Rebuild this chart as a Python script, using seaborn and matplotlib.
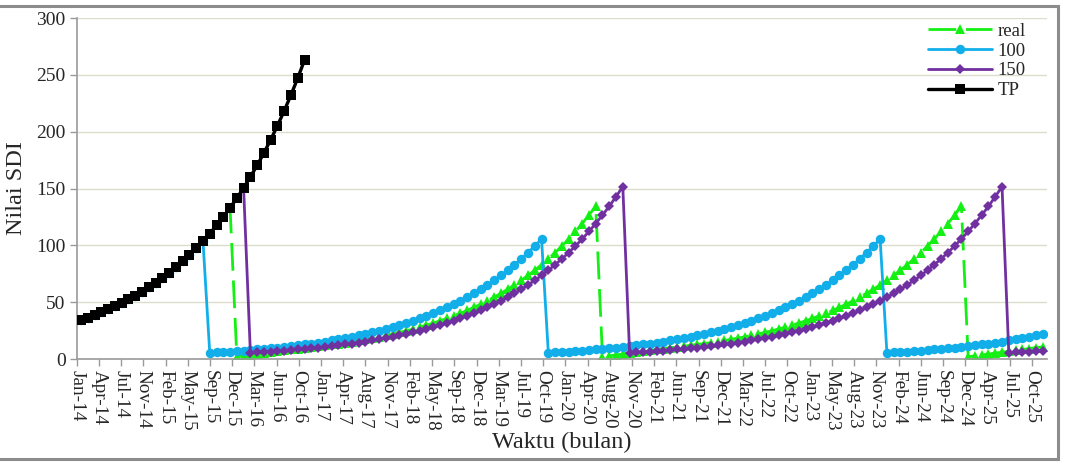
import numpy as np
import pandas as pd
import matplotlib
matplotlib.use("Agg")
import matplotlib.pyplot as plt
from matplotlib.patches import Rectangle
import seaborn as sns

# ---------------- data (monthly, Jan-14 .. Nov-25) ----------------
tp = [34.0, 36.2, 38.5, 41.0, 43.6, 46.4, 49.3, 52.5, 55.8, 59.4,
      63.2, 67.2, 71.5, 76.1, 81.0, 86.2, 91.7, 97.5, 103.8, 110.4,
      117.5, 125.0, 133.0, 141.5, 150.5, 160.2, 170.4, 181.3, 192.9, 205.3,
      218.4, 232.4, 247.2, 263.0]

s100 = [34.0, 36.2, 38.5, 41.0, 43.6, 46.4, 49.3, 52.5, 55.8, 59.4,
        63.2, 67.2, 71.5, 76.1, 81.0, 86.2, 91.7, 97.5, 103.8,
        5.5, 5.8, 6.2, 6.6, 7.0, 7.4, 7.9, 8.4, 8.9, 9.5,
        10.1, 10.7, 11.3, 12.0, 12.8, 13.6, 14.4, 15.3, 16.3, 17.3,
        18.4, 19.5, 20.7, 22.0, 23.4, 24.8, 26.4, 28.0, 29.8, 31.6,
        33.6, 35.7, 37.9, 40.2, 42.7, 45.4, 48.2, 51.2, 54.4, 57.8,
        61.4, 65.2, 69.2, 73.5, 78.1, 83.0, 88.1, 93.6, 99.4, 105.6,
        5.5, 5.8, 6.2, 6.6, 7.0, 7.4, 7.9, 8.4, 8.9, 9.5,
        10.1, 10.7, 11.3, 12.0, 12.8, 13.6, 14.4, 15.3, 16.3, 17.3,
        18.4, 19.5, 20.7, 22.0, 23.4, 24.8, 26.4, 28.0, 29.8, 31.6,
        33.6, 35.7, 37.9, 40.2, 42.7, 45.4, 48.2, 51.2, 54.4, 57.8,
        61.4, 65.2, 69.2, 73.5, 78.1, 83.0, 88.1, 93.6, 99.4, 105.6,
        5.5, 5.8, 6.2, 6.6, 7.0, 7.4, 7.9, 8.4, 8.9, 9.5,
        10.1, 10.7, 11.3, 12.0, 12.8, 13.6, 14.4, 15.3, 16.3, 17.3,
        18.4, 19.5, 20.7, 22.0]

s150 = [34.0, 36.2, 38.5, 41.0, 43.6, 46.4, 49.3, 52.5, 55.8, 59.4,
        63.2, 67.2, 71.5, 76.1, 81.0, 86.2, 91.7, 97.5, 103.8, 110.4,
        117.5, 125.0, 133.0, 141.5, 150.5,
        5.5, 5.8, 6.2, 6.6, 7.0, 7.4, 7.9, 8.4, 8.9, 9.5,
        10.1, 10.7, 11.3, 12.0, 12.8, 13.6, 14.4, 15.3, 16.3, 17.3,
        18.4, 19.5, 20.7, 22.0, 23.4, 24.8, 26.4, 28.0, 29.8, 31.6,
        33.6, 35.7, 37.9, 40.2, 42.7, 45.4, 48.2, 51.2, 54.4, 57.8,
        61.4, 65.2, 69.2, 73.5, 78.1, 83.0, 88.1, 93.6, 99.4, 105.6,
        112.2, 119.2, 126.6, 134.4, 142.8, 151.7,
        5.5, 5.8, 6.2, 6.6, 7.0, 7.4, 7.9, 8.4, 8.9, 9.5,
        10.1, 10.7, 11.3, 12.0, 12.8, 13.6, 14.4, 15.3, 16.3, 17.3,
        18.4, 19.5, 20.7, 22.0, 23.4, 24.8, 26.4, 28.0, 29.8, 31.6,
        33.6, 35.7, 37.9, 40.2, 42.7, 45.4, 48.2, 51.2, 54.4, 57.8,
        61.4, 65.2, 69.2, 73.5, 78.1, 83.0, 88.1, 93.6, 99.4, 105.6,
        112.2, 119.2, 126.6, 134.4, 142.8, 151.7,
        5.5, 5.8, 6.2, 6.6, 7.0, 7.4]

real = [34.0, 36.2, 38.5, 41.0, 43.6, 46.4, 49.3, 52.5, 55.8, 59.4,
        63.2, 67.2, 71.5, 76.1, 81.0, 86.2, 91.7, 97.5, 103.8, 110.4,
        117.5, 125.0, 133.0,
        2.0, 2.8, 3.6, 4.4, 5.2, 6.0, 6.8, 7.6, 8.4, 9.2,
        10.0, 10.7, 11.3, 12.0, 12.8, 13.6, 14.4, 15.3, 16.3, 17.3,
        18.4, 19.5, 20.7, 22.0, 23.4, 24.8, 26.4, 28.0, 29.8, 31.6,
        33.6, 35.7, 37.9, 40.2, 42.7, 45.4, 48.2, 51.2, 54.4, 57.8,
        61.4, 65.2, 69.2, 73.5, 78.1, 83.0, 88.1, 93.6, 99.4, 105.6,
        112.2, 119.2, 126.6, 134.4,
        2.0, 2.8, 3.6, 4.4, 5.2, 6.0, 6.8, 7.6, 8.4, 9.2,
        10.0, 10.7, 11.3, 12.0, 12.8, 13.6, 14.4, 15.3, 16.3, 17.3,
        18.4, 19.5, 20.7, 22.0, 23.4, 24.8, 26.4, 28.0, 29.8, 31.6,
        33.6, 35.7, 37.9, 40.2, 42.7, 45.4, 48.2, 51.2, 54.4, 57.8,
        61.4, 65.2, 69.2, 73.5, 78.1, 83.0, 88.1, 93.6, 99.4, 105.6,
        112.2, 119.2, 126.6, 134.4,
        2.0, 2.8, 3.6, 4.4, 5.2, 6.0, 6.8, 7.6, 8.4, 9.2,
        10.0, 10.7]

tick_labels = ["Jan-14", "Apr-14", "Jul-14", "Nov-14", "Feb-15", "May-15", "Sep-15",
               "Dec-15", "Mar-16", "Jun-16", "Oct-16", "Jan-17", "Apr-17", "Aug-17",
               "Nov-17", "Feb-18", "May-18", "Sep-18", "Dec-18", "Mar-19", "Jul-19",
               "Oct-19", "Jan-20", "Apr-20", "Aug-20", "Nov-20", "Feb-21", "Jun-21",
               "Sep-21", "Dec-21", "Mar-22", "Jul-22", "Oct-22", "Jan-23", "May-23",
               "Aug-23", "Nov-23", "Feb-24", "Jun-24", "Sep-24", "Dec-24", "Apr-25",
               "Jul-25", "Oct-25"]

# ---------------- style ----------------
sns.set_theme(style="white")
plt.rcParams["font.family"] = ["Liberation Serif", "DejaVu Serif"]

fig = plt.figure(figsize=(10.66, 4.62), dpi=100)
ax = fig.add_axes([0.072, 0.2229, 0.9099, 0.7381])

df_real = pd.DataFrame({"t": np.arange(len(real)), "v": real})
df_100 = pd.DataFrame({"t": np.arange(len(s100)), "v": s100})
df_150 = pd.DataFrame({"t": np.arange(len(s150)), "v": s150})
df_tp = pd.DataFrame({"t": np.arange(len(tp)), "v": tp})

sns.lineplot(data=df_real, x="t", y="v", ax=ax, color="#14F014", lw=2.0,
             linestyle=(0, (10, 3.5)), marker="^", markersize=7.0,
             markeredgewidth=0, label="real", zorder=2)
sns.lineplot(data=df_100, x="t", y="v", ax=ax, color="#12AEEA", lw=2.0,
             marker="o", markersize=6.8, markeredgewidth=0, label="100", zorder=3)
sns.lineplot(data=df_150, x="t", y="v", ax=ax, color="#7030A0", lw=2.0,
             marker="D", markersize=5.0, markeredgewidth=0, label="150", zorder=4)
sns.lineplot(data=df_tp, x="t", y="v", ax=ax, color="black", lw=2.4,
             marker="s", markersize=7.6, markeredgewidth=0, label="TP", zorder=5)

# axes
x0, step = -0.64, 3.28
ax.set_xlim(-0.64, 142.6)
ax.set_ylim(0, 300)
ax.set_yticks(np.arange(0, 301, 50))
ax.set_xticks([x0 + k * step for k in range(len(tick_labels))])
ax.set_xticklabels(tick_labels, rotation=270, fontsize=13.8)
ax.tick_params(axis="y", labelsize=14, length=5, width=1, color="#9a9a9a",
               direction="out", left=True, pad=3)
ax.tick_params(axis="x", length=5, width=1, color="#9a9a9a", direction="out",
               bottom=True, pad=3)
ax.grid(axis="y", color="#DCDCCC", lw=1.0)
ax.grid(axis="x", visible=False)
for s in ["top", "right"]:
    ax.spines[s].set_visible(False)
for s in ["left", "bottom"]:
    ax.spines[s].set_color("#9a9a9a")
    ax.spines[s].set_linewidth(1.2)

ax.set_ylabel("Nilai SDI", fontsize=17.5, labelpad=7)
ax.set_xlabel("Waktu (bulan)", fontsize=17.5, labelpad=1)

leg = ax.legend(loc="upper right", bbox_to_anchor=(0.99, 1.02), frameon=False,
                fontsize=13.5, handlelength=3.4, handletextpad=0.3,
                labelspacing=0.15, borderaxespad=0.2)

# outer border
fig.patches.append(Rectangle((-0.01, 0.006), 1.0025, 0.981, transform=fig.transFigure,
                             fill=False, edgecolor="#8c8c8c", lw=2.2))

fig.savefig("out.png", dpi=100)
